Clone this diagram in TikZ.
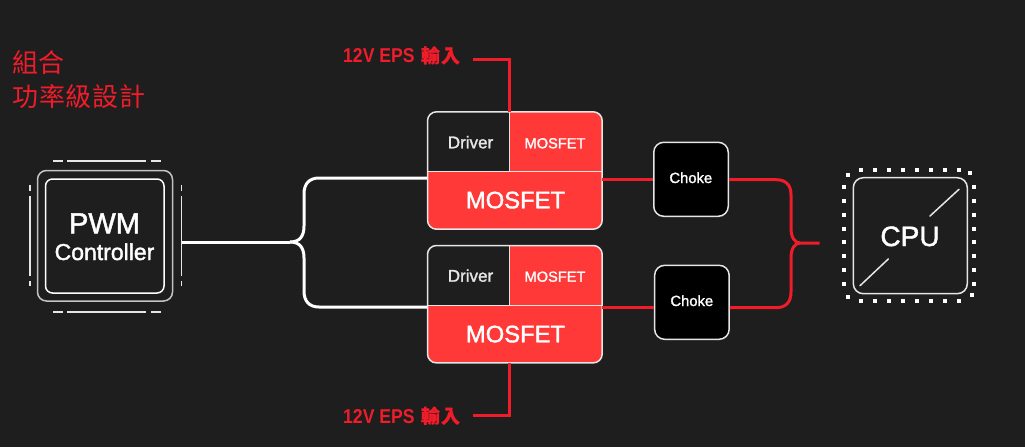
\documentclass[tikz,border=0pt]{standalone}
\usepackage{fontspec}
\setmainfont[FakeBold=1.6]{Liberation Sans}
\newfontfamily\cjk{Noto Sans CJK TC}
\newfontfamily\condensed[FakeStretch=0.88]{Liberation Sans}
\newfontfamily\cjkmed[FakeBold=0.8]{Noto Sans CJK TC}
\definecolor{pagebg}{HTML}{1E1E1E}
\definecolor{wire}{HTML}{F01C2A}
\definecolor{cellred}{HTML}{FF3838}
\definecolor{edge}{HTML}{E6E6E6}
\newcommand{\fs}[1]{\fontsize{#1}{#1}\selectfont}
\tikzset{
  whitewire/.style={draw=white,line width=3pt},
  redwire/.style={draw=wire,line width=3pt},
  thinline/.style={draw=edge,line width=1.5pt},
  modulebox/.style={fill=cellred,rounded corners=9pt,
    minimum width=174.3pt,minimum height=117pt,inner sep=0pt},
  chokebox/.style={draw=edge,line width=1.5pt,fill=black,rounded corners=10pt,
    minimum width=74.5pt,minimum height=74pt,inner sep=0pt},
  chipbox/.style={draw=edge,line width=1.5pt,inner sep=0pt},
  label/.style={anchor=base,text=white,inner sep=0pt},
  eps/.style={anchor=base west,text=wire,inner sep=0pt},
  headline/.style={anchor=base west,text=wire,inner sep=0pt,font=\cjk\fs{26}},
}
\begin{document}
\begin{tikzpicture}[x=1pt,y=-1pt]
\fill[pagebg] (0,0) rectangle (1025,447);
\useasboundingbox (0,0) rectangle (1025,447);

% heading
\node[headline] (head1) at (12.5,72) {組合};
\node[headline] (head2) at (12.5,106.5) {功\kern0.6pt 率\kern0.6pt 級\kern0.6pt 設\kern0.6pt 計};

% PWM controller package
\node[chipbox,rounded corners=9pt,minimum width=135pt,minimum height=130.5pt,draw=edge!85!black] (pwmouter) at (105,235.75) {};
\node[chipbox,rounded corners=7pt,minimum width=118.5pt,minimum height=114pt,draw=white] (pwm) at (104.75,236) {};
\node[label,font=\fs{29}] (pwmA) at (104.5,233.3) {PWM};
\node[label,font=\fs{23}] (pwmB) at (104.5,260) {Controller};
\foreach \y in {161,312}{
  \draw[thinline] (53,\y) -- (63,\y) (67,\y) -- (146,\y) (151,\y) -- (161,\y);
}
\foreach \x in {30,181.5}{
  \draw[thinline] (\x,185) -- (\x,191) (\x,196) -- (\x,276) (\x,281) -- (\x,286);
}
\coordinate (pwmpin) at (182,242);
\coordinate (fork) at (290,242);

% power stages: red body, dark driver cell, dividers, outline
\node[modulebox] (stageA) at (514.85,170.5) {};
\node[modulebox] (stageB) at (514.85,304.2) {};
\foreach \m/\top/\mid in {stageA/112/171.5,stageB/245.7/305.3}{
  \fill[pagebg] (427.7,\mid) [rounded corners=9pt] -- (427.7,\top) [sharp corners] -- (509.3,\top) -- (509.3,\mid) -- cycle;
  \draw[thinline] (\m.west |- 0,\mid) -- (\m.east |- 0,\mid) (509.3,\top) -- (509.3,\mid);
  \draw[thinline,rounded corners=9pt] (\m.south west) rectangle (\m.north east);
}
\node[label,font=\fs{17},text=edge] (drvA) at (470.5,148.3) {Driver};
\node[label,font=\fs{14.6}] (smallA) at (555,148.3) {MOSFET};
\node[label,font=\fs{23.8}] (bigA) at (515.5,208.3) {MOSFET};
\node[label,font=\fs{17},text=edge] (drvB) at (470.5,281.7) {Driver};
\node[label,font=\fs{14.6}] (smallB) at (555,281.7) {MOSFET};
\node[label,font=\fs{23.8}] (bigB) at (515.5,342.3) {MOSFET};

% chokes
\node[chokebox] (chokeA) at (691,179.3) {};
\node[chokebox] (chokeB) at (691.9,302.3) {};
\node[label,font=\fs{14.8}] (chokeAt) at (690.8,183) {Choke};
\node[label,font=\fs{14.8}] (chokeBt) at (691.8,306) {Choke};

% CPU package
\node[chipbox,rounded corners=10pt,minimum width=114pt,minimum height=116pt] (cpu) at (910.3,235.7) {};
\node[label,font=\fs{28}] (cputext) at (910,246) {CPU};
\draw[thinline,line cap=round] (959,189.3) -- (930,216) (888.3,259) -- (860,285.7);
\foreach \i in {0,...,7}{
  \fill[white] ({861.3+13.9*\i-2},167.7) rectangle +(4,4);
  \fill[white] ({861.3+13.9*\i-2},299) rectangle +(4,4);
  \fill[white] (842.3,{187+13.87*\i-2}) rectangle +(4,4);
  \fill[white] (972.3,{187+13.87*\i-2}) rectangle +(4,4);
}
\foreach \cx/\cy in {848/175.3,970.3/173.3,848/297.3,972/295.3}{
  \fill[white] (\cx-2,\cy-2) rectangle +(4,4);
}

% supply labels and their feeds
\node[eps,font=\fs{20}] (epsA) at (343,62.7) {\condensed\bfseries 12V EPS\kern2pt\cjkmed\fs{19} 輸\kern1pt 入};
\node[eps,font=\fs{20}] (epsB) at (343,423) {\condensed\bfseries 12V EPS\kern2pt\cjkmed\fs{19} 輸\kern1pt 入};
\coordinate (feedA) at (473,59.7);
\coordinate (feedB) at (473,415);
\draw[redwire] (feedA) -- (509.7,59.7) -- (509.7,112);
\draw[redwire] (feedB) -- (509.7,415) -- (509.7,363);

% signal wiring from the controller to the stages
\draw[whitewire] (pwmpin) -- (fork);
\draw[whitewire] (fork) .. controls (300,242) and (304,236) .. (304,226) -- (304,194)
  .. controls (304,184) and (309,178) .. (319,178) -- (427,178);
\draw[whitewire] (fork) .. controls (300,242) and (304,248) .. (304,258) -- (304,291)
  .. controls (304,301) and (309,307) .. (319,307) -- (427,307);

% power wiring through the chokes to the CPU
\coordinate (merge) at (800,243);
\coordinate (cpuin) at (819.5,243);
\draw[redwire] (stageA.east |- 0,179.7) -- (chokeA.west |- 0,179.7);
\draw[redwire] (stageB.east |- 0,307.7) -- (chokeB.west |- 0,307.7);
\draw[redwire] (chokeA.east |- 0,179.7) -- (776,179.7) .. controls (786,179.7) and (791,185) .. (791,195) -- (791,228)
  .. controls (791,238) and (795,243) .. (merge) -- (cpuin);
\draw[redwire] (chokeB.east |- 0,307.7) -- (776,307.7) .. controls (786,307.7) and (791,302) .. (791,292) -- (791,258)
  .. controls (791,248) and (795,243) .. (merge);
\end{tikzpicture}
\end{document}
